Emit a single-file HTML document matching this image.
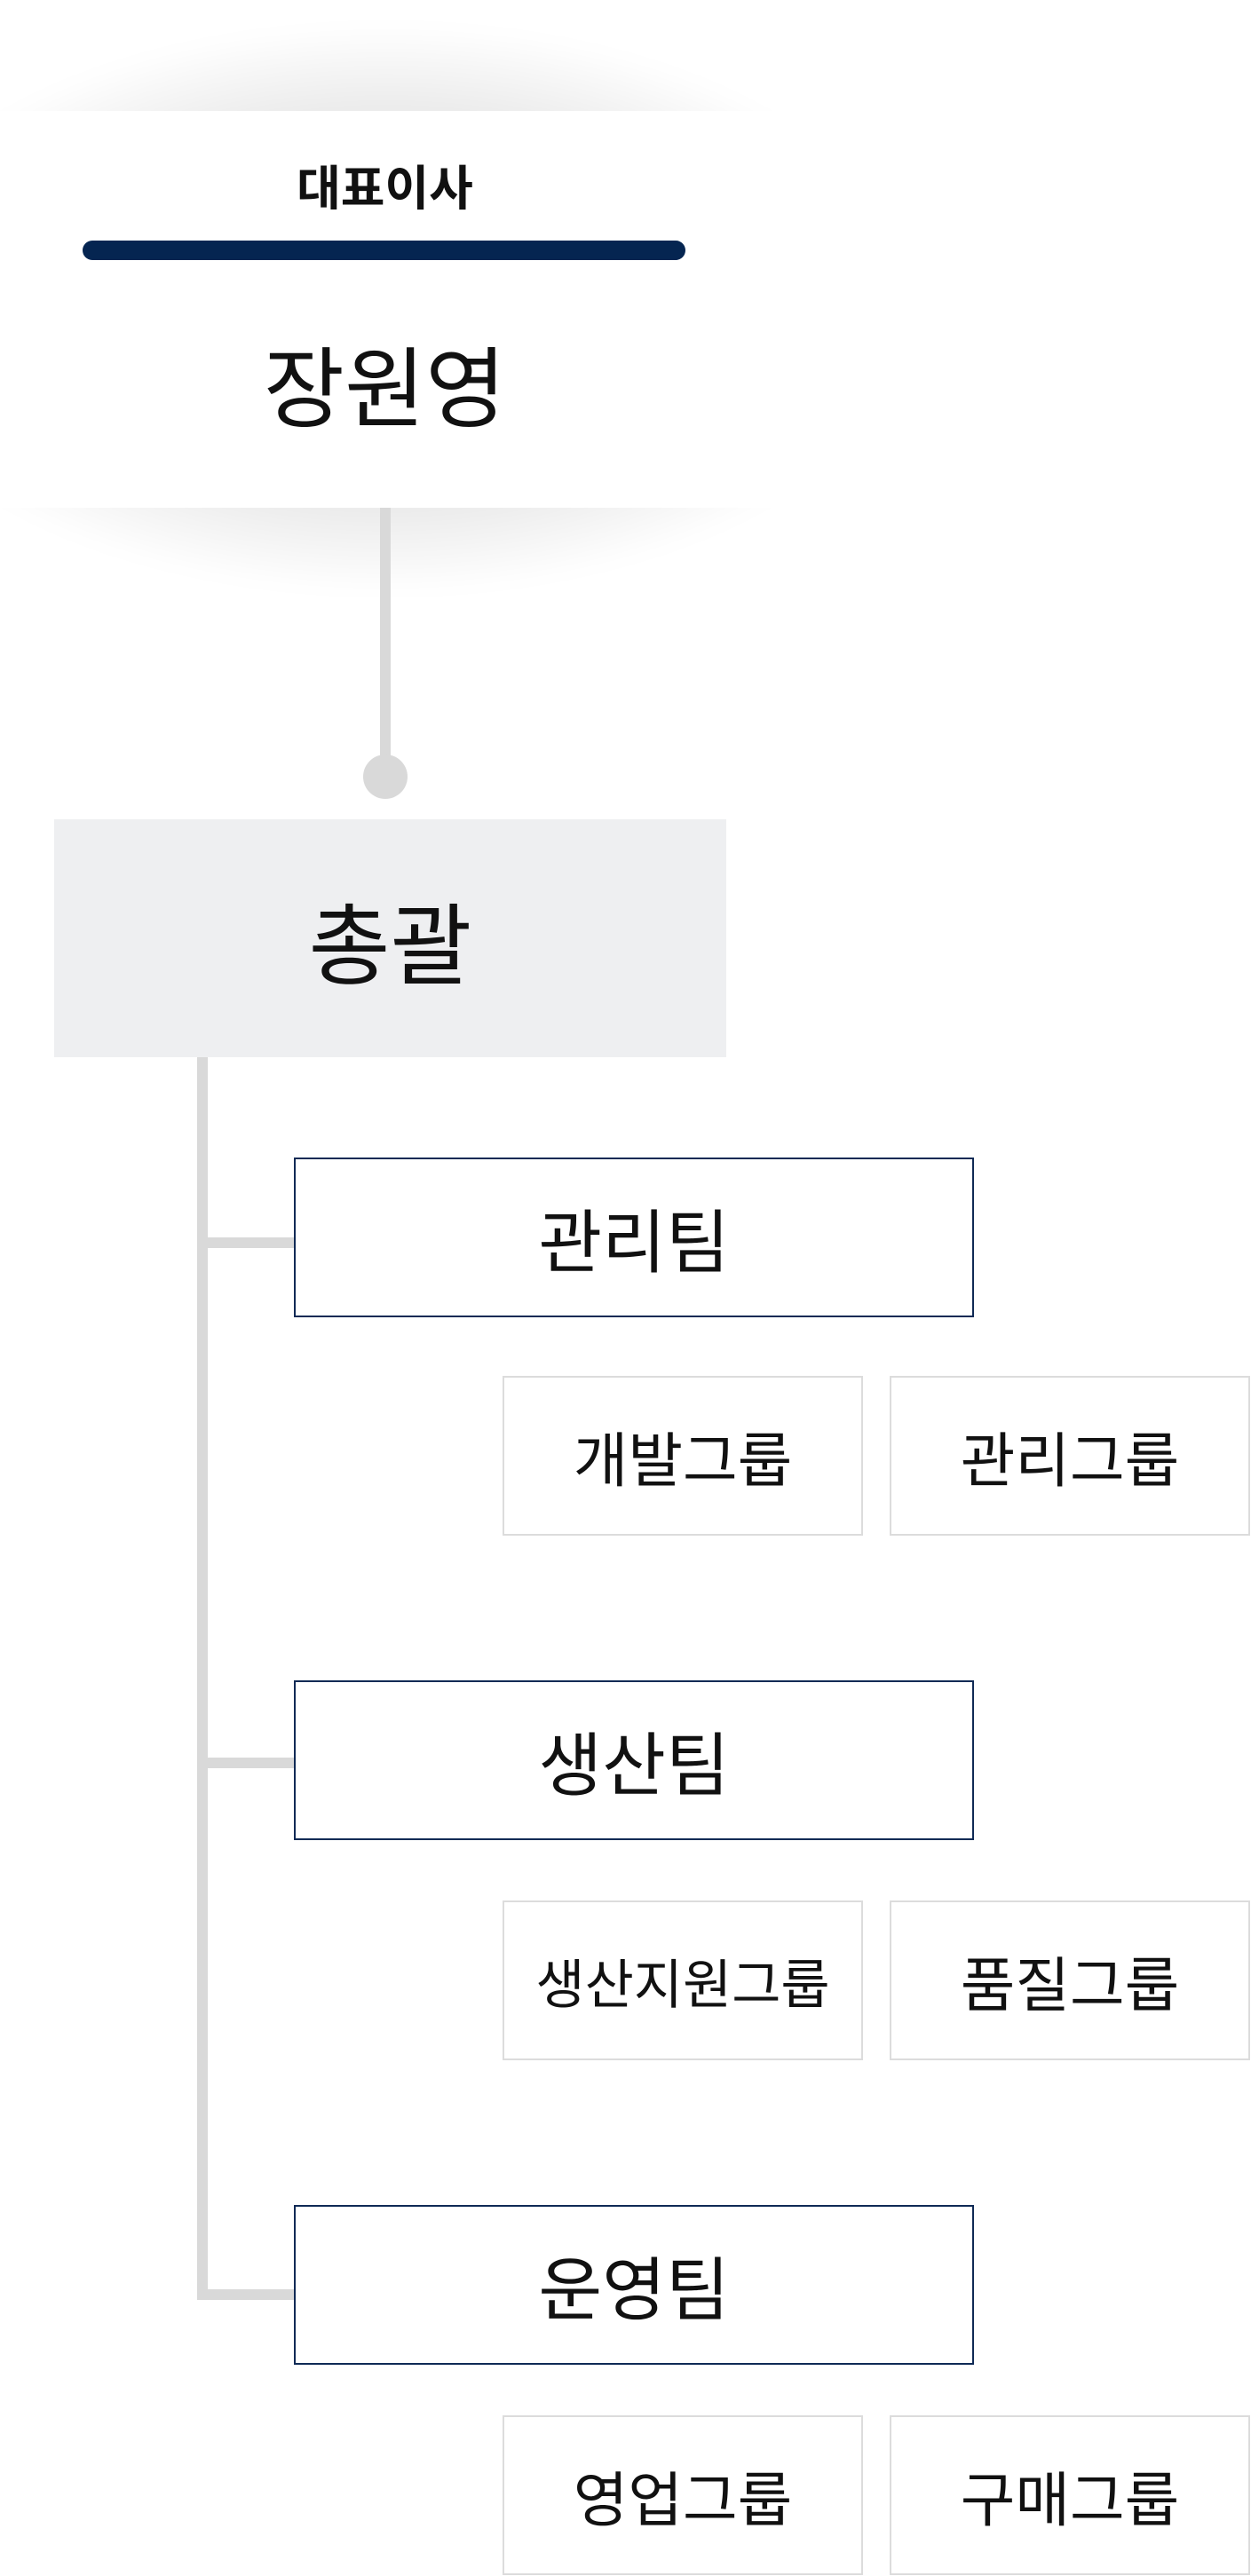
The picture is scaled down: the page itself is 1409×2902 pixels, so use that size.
<!DOCTYPE html>
<html><head><meta charset="utf-8"><style>
html,body{margin:0;padding:0;background:#fff;}
body{width:1409px;height:2902px;position:relative;overflow:hidden;font-family:"Liberation Sans","Noto Sans CJK KR",sans-serif;color:#111;}
.a{position:absolute;box-sizing:border-box;display:flex;align-items:center;justify-content:center;white-space:nowrap;}
.team{border:2px solid #0f2a55;background:#fff;font-size:78px;}
.grp{border:2px solid #dcdcdc;background:#fff;font-size:67px;}
.line{position:absolute;background:#d9d9d9;}
</style></head><body>
<div style="position:absolute;left:-200px;top:0;width:1300px;height:720px;background:radial-gradient(ellipse 600px 320px at 635px 348px, rgba(0,0,0,.15) 0%, rgba(0,0,0,.08) 70%, rgba(0,0,0,0) 100%);filter:blur(12px);"></div>
<div style="position:absolute;left:0;top:125px;width:1200px;height:447px;background:#fff;"></div>
<div class="a" style="left:0;top:175px;width:867px;height:64px;font-size:54px;font-weight:bold;">대표이사</div>
<div style="position:absolute;left:93px;top:271px;width:679px;height:22px;background:#052551;border-radius:11px;"></div>
<div class="a" style="left:0;top:375px;width:867px;height:110px;font-size:99px;">장원영</div>
<div class="line" style="left:428px;top:572px;width:12px;height:300px;"></div>
<div style="position:absolute;left:409px;top:850px;width:50px;height:50px;border-radius:50%;background:#d9d9d9;"></div>
<div class="a" style="left:61px;top:923px;width:757px;height:268px;background:#eeeff1;font-size:100px;">총괄</div>
<div class="line" style="left:222px;top:1191px;width:12px;height:1400px;"></div>
<div class="line" style="left:222px;top:1394px;width:110px;height:12px;"></div>
<div class="line" style="left:222px;top:1980px;width:110px;height:12px;"></div>
<div class="line" style="left:222px;top:2579px;width:110px;height:12px;"></div>
<div class="a team" style="left:331px;top:1304px;width:766px;height:180px;">관리팀</div>
<div class="a team" style="left:331px;top:1893px;width:766px;height:180px;">생산팀</div>
<div class="a team" style="left:331px;top:2484px;width:766px;height:180px;">운영팀</div>
<div class="a grp" style="left:566px;top:1550px;width:406px;height:180px;">개발그룹</div>
<div class="a grp" style="left:1002px;top:1550px;width:406px;height:180px;">관리그룹</div>
<div class="a grp" style="left:566px;top:2141px;width:406px;height:180px;font-size:60px;">생산지원그룹</div>
<div class="a grp" style="left:1002px;top:2141px;width:406px;height:180px;">품질그룹</div>
<div class="a grp" style="left:566px;top:2721px;width:406px;height:180px;">영업그룹</div>
<div class="a grp" style="left:1002px;top:2721px;width:406px;height:180px;">구매그룹</div>
</body></html>
